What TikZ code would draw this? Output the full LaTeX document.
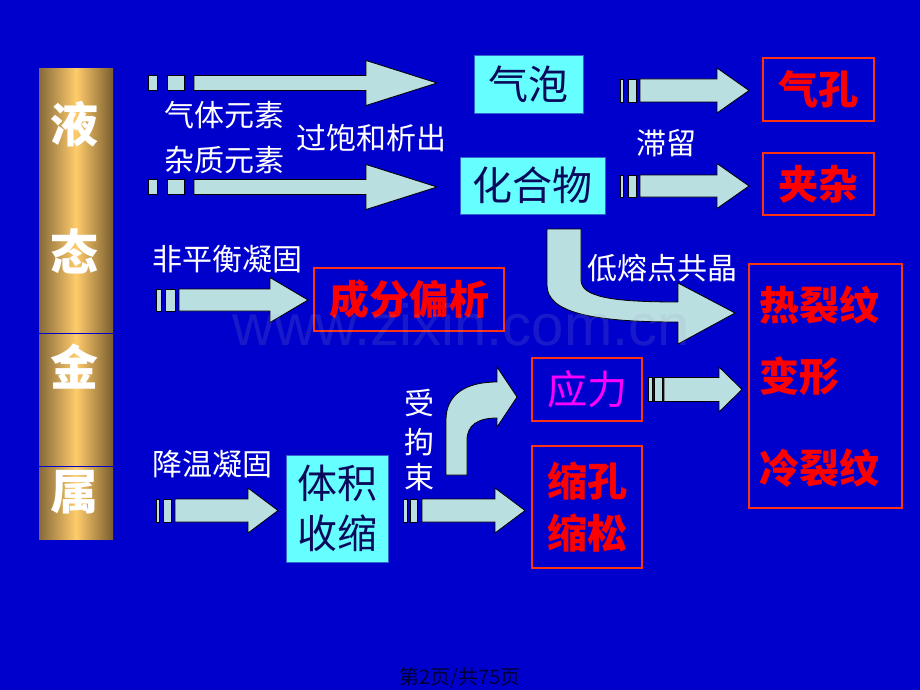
\documentclass[tikz,border=0pt]{standalone}
\usepackage{fontspec}
\setmainfont{Noto Sans CJK SC}
\newfontfamily\latinsans{Liberation Sans}
\definecolor{bgblue}{HTML}{0000CC}
\definecolor{arrowfill}{HTML}{BADFE0}
\definecolor{cyanfill}{HTML}{66FFFF}
\definecolor{cyanedge}{HTML}{3366CC}
\definecolor{navytext}{HTML}{0A0A5C}
\definecolor{rededge}{HTML}{FF3311}
\definecolor{redtxt}{HTML}{FF0000}
\definecolor{magtxt}{HTML}{FF00FF}
\definecolor{golddark}{HTML}{86693A}
\definecolor{golddarkr}{HTML}{7A5E30}
\definecolor{goldlight}{HTML}{FFCC6A}
\definecolor{footertxt}{HTML}{000033}
\definecolor{wmcol}{HTML}{A0A0D0}
\newcommand\stripearrow[9]{%
  \filldraw[barrow] (#1,#8-#9) rectangle (#2,#8+#9);
  \filldraw[barrow] (#3,#8-#9) rectangle (#4,#8+#9);
  \filldraw[barrow] (#5,#8-#9) -- (#6,#8-#9) -- (#6,#8-22.5) -- (#7,#8)
     -- (#6,#8+22.5) -- (#6,#8+#9) -- (#5,#8+#9) -- cycle;}
\begin{document}
\begin{tikzpicture}[x=1pt,y=-1pt,
  barrow/.style={fill=arrowfill, draw=black, line width=0.8pt, line join=miter},
  cyanbox/.style={fill=cyanfill, draw=cyanedge, line width=0.8pt, text=navytext,
    font=\fontsize{40}{50}\selectfont, inner sep=0pt, align=center},
  redbox/.style={draw=rededge, line width=2.6pt, inner sep=0pt},
  redtext/.style={text=redtxt, font=\bfseries\fontsize{40}{52}\selectfont, align=center},
  wlabel/.style={text=white, font=\fontsize{30}{36}\selectfont, inner sep=0pt},
  bartext/.style={text=white, font=\bfseries\fontsize{48}{50}\selectfont, inner sep=0pt},
  barline/.style={draw=bgblue, line width=1pt}]
\fill[bgblue] (0,0) rectangle (920,690);
\useasboundingbox (0,0) rectangle (920,690);

% left bar
\node[minimum width=74pt, minimum height=470pt, inner sep=0pt,
  left color=golddark, right color=golddarkr, middle color=goldlight] (metal) at (76,304) {};
\draw[barline] (metal.west |- 0,333) -- (metal.east |- 0,333);
\draw[barline] (metal.west |- 0,466) -- (metal.east |- 0,466);
\node[bartext] (c1) at (74,124) {液};
\node[bartext] (c2) at (74,251) {态};
\node[bartext] (c3) at (74,367) {金};
\node[bartext] (c4) at (74,492) {属};

% boxes
\node[cyanbox, minimum width=109pt, minimum height=58pt] (bubble) at (528.5,84) {气泡};
\node[cyanbox, minimum width=145pt, minimum height=57pt] (compound) at (532.5,185.5) {化合物};
\node[cyanbox, minimum width=102pt, minimum height=107pt] (shrink) at (337,508.5) {体积\\收缩};
\node[redbox, redtext, minimum width=111pt, minimum height=63pt] (pore) at (818.5,89.5) {气孔};
\node[redbox, redtext, minimum width=111pt, minimum height=62pt] (incl) at (818.5,184) {夹杂};
\node[redbox, redtext, minimum width=190pt, minimum height=63pt] (segr) at (409,299.5) {成分偏析};
\node[redbox, minimum width=110pt, minimum height=63pt, text=magtxt,
  font=\fontsize{40}{50}\selectfont] (stress) at (587,389.5) {应力};
\node[redbox, redtext, minimum width=110pt, minimum height=122pt] (cavity) at (587,507) {缩孔\\缩松};
\node[redbox, minimum width=153pt, minimum height=244pt] (defects) at (825.5,386) {};
\node[redtext, anchor=west, inner sep=0pt] (hot) at (759,305) {热裂纹};
\node[redtext, anchor=west, inner sep=0pt] (deform) at (759,376) {变形};
\node[redtext, anchor=west, inner sep=0pt] (cold) at (759,468) {冷裂纹};

% straight striped arrows
\stripearrow{148}{157}{167}{184}{194}{366}{437}{83}{7.5}
\stripearrow{148}{157}{167}{184}{194}{366}{437}{187}{7.5}
\stripearrow{620}{623.5}{628}{636}{640}{717}{749}{90.5}{11.5}
\stripearrow{620}{623.5}{628}{636}{640}{717}{749}{186}{11}
\stripearrow{156}{161}{165}{175}{179}{270}{308}{300}{11}
\stripearrow{648}{652}{654.5}{662}{664}{719}{742}{389.5}{12}
\stripearrow{156}{159.5}{163}{171}{175}{248}{278}{510.5}{11.5}
\stripearrow{403}{407}{410}{417}{422}{495}{525}{510.5}{11.5}

% curved arrows
\filldraw[barrow] (547,229) -- (581,229) -- (581,280)
  .. controls (581,297) and (612,302) .. (678,302) -- (678,283) -- (735,313)
  -- (678,344) -- (678,322) .. controls (590,322) and (547,312) .. (547,285) -- cycle;
\filldraw[barrow] (446,475) -- (446,420) .. controls (446,395) and (465,382) .. (497,382)
  -- (497,367) -- (517,397) -- (497,427) -- (497,418)
  .. controls (478,418) and (467,425) .. (467,440) -- (467,475) -- cycle;

% labels
\node[wlabel] (gas) at (224,115) {气体元素};
\node[wlabel] (impur) at (224,160) {杂质元素};
\node[wlabel] (supersat) at (371,138) {过饱和析出};
\node[wlabel] (retain) at (666,143) {滞留};
\node[wlabel] (noneq) at (227,259) {非平衡凝固};
\node[wlabel] (eutectic) at (662,268) {低熔点共晶};
\node[wlabel] (cooling) at (212,464) {降温凝固};
\node[wlabel] (r1) at (419,403) {受};
\node[wlabel] (r2) at (419,442) {拘};
\node[wlabel] (r3) at (419,477) {束};

% watermark and footer
\node[font=\latinsans\fontsize{58}{60}\selectfont, text=wmcol, text opacity=0.16] (wm) at (461,325) {www.zixin.com.cn};
\node[text=footertxt, font=\fontsize{20}{24}\selectfont] (page) at (460,678) {第2页/共75页};
\end{tikzpicture}
\end{document}
